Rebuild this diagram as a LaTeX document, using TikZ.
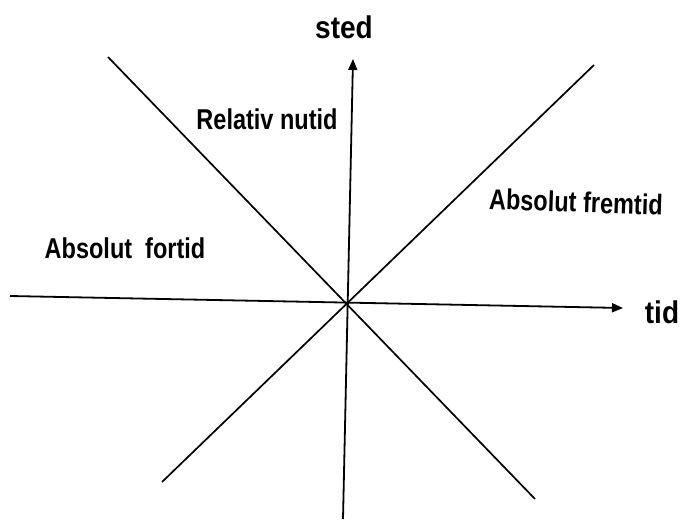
\documentclass[tikz,border=0pt]{standalone}
\usepackage{fontspec}
\setmainfont{Liberation Sans}
\usetikzlibrary{arrows.meta}
\begin{document}
\begin{tikzpicture}[x=1pt,y=-1pt,
  axisline/.style={line width=1.8pt, -{Triangle[length=11pt,width=9pt]}},
  diagline/.style={line width=1.7pt},
  lbl/.style={inner sep=0pt, font=\bfseries\fontsize{23.5}{25}\selectfont},
  axlbl/.style={inner sep=0pt, font=\bfseries\fontsize{28}{30}\selectfont}]
\useasboundingbox (0,0) rectangle (683,521);
\coordinate (o) at (347.5,302.5);
\coordinate (hl) at (10,296);
\coordinate (hr) at (623,308);
\coordinate (vb) at (343,519);
\coordinate (vt) at (353,59);
\coordinate (d1a) at (108,57);
\coordinate (d1b) at (535,499);
\coordinate (d2a) at (594,65);
\coordinate (d2b) at (162,482);
\draw[axisline] (hl) -- (hr);
\draw[axisline] (vb) -- (vt);
\draw[diagline] (d1a) -- (d1b);
\draw[diagline] (d2a) -- (d2b);
\node[axlbl] (sted) at (344,27) {\scalebox{1}[1.12]{sted}};
\node[axlbl] (tid) at (662,312) {\scalebox{1}[1.12]{tid}};
\node[lbl] (rel) at (267,119) {\scalebox{1}[1.22]{Relativ nutid}};
\node[lbl, rotate=-2] (fremtid) at (576,202) {\scalebox{1}[1.22]{Absolut fremtid}};
\node[lbl] (fortid) at (125,248) {\scalebox{1}[1.22]{Absolut\ \ fortid}};
\end{tikzpicture}
\end{document}
